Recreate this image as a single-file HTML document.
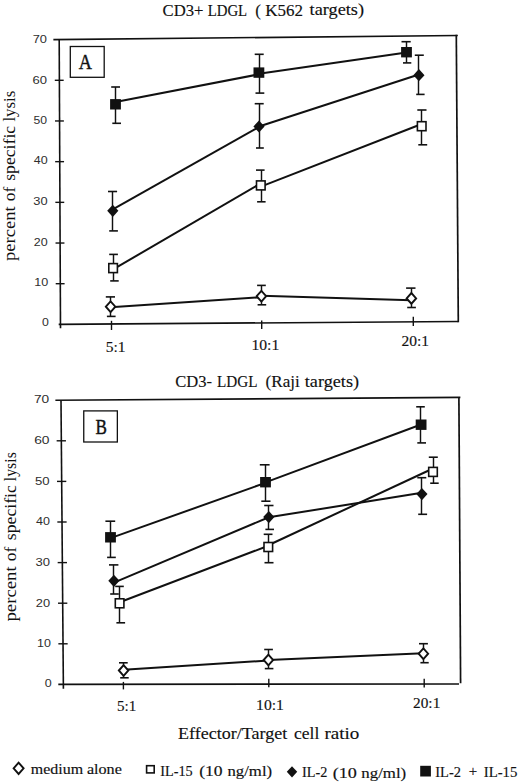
<!DOCTYPE html>
<html><head><meta charset="utf-8"><title>Figure</title>
<style>
html,body{margin:0;padding:0;background:#fff;}
body{width:520px;height:783px;overflow:hidden;font-family:"Liberation Serif",serif;}
svg{display:block;}
</style></head><body>
<svg width="520" height="783" viewBox="0 0 520 783">
<rect width="520" height="783" fill="#fff"/>
<line x1="54.20" y1="39.65" x2="457.00" y2="35.50" stroke="#111" stroke-width="1.6" stroke-linecap="square"/>
<line x1="456.30" y1="35.50" x2="458.30" y2="321.50" stroke="#111" stroke-width="1.7" stroke-linecap="square"/>
<line x1="58.70" y1="324.41" x2="458.30" y2="321.50" stroke="#111" stroke-width="1.7" stroke-linecap="butt"/>
<line x1="59.20" y1="39.60" x2="60.50" y2="328.30" stroke="#111" stroke-width="1.6" stroke-linecap="butt"/>
<line x1="55.71" y1="283.71" x2="64.61" y2="283.71" stroke="#111" stroke-width="1.4" stroke-linecap="butt"/>
<line x1="55.53" y1="243.03" x2="64.43" y2="243.03" stroke="#111" stroke-width="1.4" stroke-linecap="butt"/>
<line x1="55.34" y1="202.34" x2="64.24" y2="202.34" stroke="#111" stroke-width="1.4" stroke-linecap="butt"/>
<line x1="55.16" y1="161.66" x2="64.06" y2="161.66" stroke="#111" stroke-width="1.4" stroke-linecap="butt"/>
<line x1="54.97" y1="120.97" x2="63.87" y2="120.97" stroke="#111" stroke-width="1.4" stroke-linecap="butt"/>
<line x1="54.79" y1="80.29" x2="63.69" y2="80.29" stroke="#111" stroke-width="1.4" stroke-linecap="butt"/>
<line x1="111.50" y1="320.80" x2="111.50" y2="330.00" stroke="#111" stroke-width="1.4" stroke-linecap="butt"/>
<line x1="261.70" y1="320.40" x2="261.70" y2="329.00" stroke="#111" stroke-width="1.4" stroke-linecap="butt"/>
<line x1="413.30" y1="316.80" x2="413.30" y2="325.90" stroke="#111" stroke-width="1.4" stroke-linecap="butt"/>
<rect x="70.3" y="46.5" width="33.9" height="30.8" fill="none" stroke="#111" stroke-width="1.3"/>
<line x1="115.50" y1="102.00" x2="258.90" y2="74.32" stroke="#111" stroke-width="2.0" stroke-linecap="butt"/>
<line x1="258.90" y1="73.84" x2="406.50" y2="52.44" stroke="#111" stroke-width="2.0" stroke-linecap="butt"/>
<line x1="115.50" y1="87.00" x2="115.50" y2="123.30" stroke="#111" stroke-width="1.45" stroke-linecap="butt"/>
<line x1="111.20" y1="87.00" x2="120.00" y2="87.00" stroke="#111" stroke-width="1.6" stroke-linecap="butt"/>
<line x1="112.30" y1="123.30" x2="121.00" y2="123.30" stroke="#111" stroke-width="1.6" stroke-linecap="butt"/>
<line x1="259.50" y1="54.30" x2="259.50" y2="93.10" stroke="#111" stroke-width="1.45" stroke-linecap="butt"/>
<line x1="254.70" y1="54.30" x2="263.70" y2="54.30" stroke="#111" stroke-width="1.6" stroke-linecap="butt"/>
<line x1="255.50" y1="93.10" x2="264.30" y2="93.10" stroke="#111" stroke-width="1.6" stroke-linecap="butt"/>
<line x1="406.50" y1="41.70" x2="406.50" y2="62.90" stroke="#111" stroke-width="1.45" stroke-linecap="butt"/>
<line x1="401.50" y1="41.70" x2="410.70" y2="41.70" stroke="#111" stroke-width="1.6" stroke-linecap="butt"/>
<line x1="403.00" y1="62.90" x2="411.30" y2="62.90" stroke="#111" stroke-width="1.6" stroke-linecap="butt"/>
<rect x="110.10" y="99.10" width="10.8" height="10.4" fill="#111"/>
<rect x="253.50" y="67.40" width="10.8" height="10.4" fill="#111"/>
<rect x="401.10" y="47.00" width="10.8" height="10.4" fill="#111"/>
<line x1="112.80" y1="209.28" x2="259.00" y2="126.97" stroke="#111" stroke-width="2.0" stroke-linecap="butt"/>
<line x1="259.00" y1="126.48" x2="418.90" y2="74.51" stroke="#111" stroke-width="2.0" stroke-linecap="butt"/>
<line x1="112.50" y1="191.50" x2="112.50" y2="230.90" stroke="#111" stroke-width="1.45" stroke-linecap="butt"/>
<line x1="108.00" y1="191.50" x2="117.10" y2="191.50" stroke="#111" stroke-width="1.6" stroke-linecap="butt"/>
<line x1="109.20" y1="230.90" x2="117.90" y2="230.90" stroke="#111" stroke-width="1.6" stroke-linecap="butt"/>
<line x1="259.50" y1="103.70" x2="259.50" y2="148.00" stroke="#111" stroke-width="1.45" stroke-linecap="butt"/>
<line x1="254.70" y1="103.70" x2="263.70" y2="103.70" stroke="#111" stroke-width="1.6" stroke-linecap="butt"/>
<line x1="256.00" y1="148.00" x2="263.80" y2="148.00" stroke="#111" stroke-width="1.6" stroke-linecap="butt"/>
<line x1="418.50" y1="55.20" x2="418.50" y2="94.40" stroke="#111" stroke-width="1.45" stroke-linecap="butt"/>
<line x1="414.80" y1="55.20" x2="423.80" y2="55.20" stroke="#111" stroke-width="1.6" stroke-linecap="butt"/>
<line x1="416.20" y1="94.40" x2="424.60" y2="94.40" stroke="#111" stroke-width="1.6" stroke-linecap="butt"/>
<polygon points="107.20,210.80 112.80,204.70 118.40,210.80 112.80,216.90" fill="#111"/>
<polygon points="253.40,126.50 259.00,120.40 264.60,126.50 259.00,132.60" fill="#111"/>
<polygon points="413.30,75.20 418.90,69.10 424.50,75.20 418.90,81.30" fill="#111"/>
<line x1="113.10" y1="269.40" x2="260.80" y2="183.29" stroke="#111" stroke-width="2.0" stroke-linecap="butt"/>
<line x1="260.80" y1="186.60" x2="421.70" y2="124.01" stroke="#111" stroke-width="2.0" stroke-linecap="butt"/>
<line x1="113.50" y1="254.40" x2="113.50" y2="280.90" stroke="#111" stroke-width="1.45" stroke-linecap="butt"/>
<line x1="109.20" y1="254.40" x2="117.90" y2="254.40" stroke="#111" stroke-width="1.6" stroke-linecap="butt"/>
<line x1="110.20" y1="280.90" x2="118.70" y2="280.90" stroke="#111" stroke-width="1.6" stroke-linecap="butt"/>
<line x1="261.50" y1="170.10" x2="261.50" y2="201.80" stroke="#111" stroke-width="1.45" stroke-linecap="butt"/>
<line x1="256.00" y1="170.10" x2="264.60" y2="170.10" stroke="#111" stroke-width="1.6" stroke-linecap="butt"/>
<line x1="257.10" y1="201.80" x2="265.60" y2="201.80" stroke="#111" stroke-width="1.6" stroke-linecap="butt"/>
<line x1="421.50" y1="110.00" x2="421.50" y2="144.80" stroke="#111" stroke-width="1.45" stroke-linecap="butt"/>
<line x1="417.30" y1="110.00" x2="426.50" y2="110.00" stroke="#111" stroke-width="1.6" stroke-linecap="butt"/>
<line x1="418.30" y1="144.80" x2="427.20" y2="144.80" stroke="#111" stroke-width="1.6" stroke-linecap="butt"/>
<rect x="108.80" y="263.60" width="8.6" height="9.0" fill="#fff" stroke="#111" stroke-width="1.6"/>
<rect x="256.50" y="180.90" width="8.6" height="9.0" fill="#fff" stroke="#111" stroke-width="1.6"/>
<rect x="417.40" y="121.70" width="8.6" height="9.0" fill="#fff" stroke="#111" stroke-width="1.6"/>
<line x1="110.60" y1="307.18" x2="261.40" y2="297.15" stroke="#111" stroke-width="2.0" stroke-linecap="butt"/>
<line x1="261.40" y1="295.84" x2="411.40" y2="300.29" stroke="#111" stroke-width="2.0" stroke-linecap="butt"/>
<line x1="110.50" y1="296.90" x2="110.50" y2="316.40" stroke="#111" stroke-width="1.45" stroke-linecap="butt"/>
<line x1="105.80" y1="296.90" x2="115.00" y2="296.90" stroke="#111" stroke-width="1.6" stroke-linecap="butt"/>
<line x1="106.90" y1="316.40" x2="115.60" y2="316.40" stroke="#111" stroke-width="1.6" stroke-linecap="butt"/>
<line x1="261.50" y1="285.40" x2="261.50" y2="304.80" stroke="#111" stroke-width="1.45" stroke-linecap="butt"/>
<line x1="257.10" y1="285.40" x2="265.80" y2="285.40" stroke="#111" stroke-width="1.6" stroke-linecap="butt"/>
<line x1="257.60" y1="304.80" x2="266.20" y2="304.80" stroke="#111" stroke-width="1.6" stroke-linecap="butt"/>
<line x1="411.50" y1="288.10" x2="411.50" y2="307.50" stroke="#111" stroke-width="1.45" stroke-linecap="butt"/>
<line x1="406.10" y1="288.10" x2="415.50" y2="288.10" stroke="#111" stroke-width="1.6" stroke-linecap="butt"/>
<line x1="407.20" y1="307.50" x2="415.90" y2="307.50" stroke="#111" stroke-width="1.6" stroke-linecap="butt"/>
<polygon points="105.85,306.70 110.60,301.35 115.35,306.70 110.60,312.05" fill="#fff" stroke="#111" stroke-width="1.9" stroke-linejoin="miter"/>
<polygon points="256.65,296.20 261.40,290.85 266.15,296.20 261.40,301.55" fill="#fff" stroke="#111" stroke-width="1.9" stroke-linejoin="miter"/>
<polygon points="406.65,298.40 411.40,293.05 416.15,298.40 411.40,303.75" fill="#fff" stroke="#111" stroke-width="1.9" stroke-linejoin="miter"/>
<line x1="56.20" y1="400.23" x2="459.60" y2="397.40" stroke="#111" stroke-width="1.6" stroke-linecap="square"/>
<line x1="458.90" y1="397.40" x2="460.60" y2="683.20" stroke="#111" stroke-width="1.7" stroke-linecap="butt"/>
<line x1="58.30" y1="684.41" x2="459.00" y2="684.00" stroke="#111" stroke-width="1.7" stroke-linecap="butt"/>
<line x1="61.00" y1="400.20" x2="63.40" y2="688.70" stroke="#111" stroke-width="1.6" stroke-linecap="butt"/>
<line x1="58.36" y1="643.80" x2="67.66" y2="643.80" stroke="#111" stroke-width="1.4" stroke-linecap="butt"/>
<line x1="58.01" y1="603.20" x2="67.31" y2="603.20" stroke="#111" stroke-width="1.4" stroke-linecap="butt"/>
<line x1="57.67" y1="562.60" x2="66.97" y2="562.60" stroke="#111" stroke-width="1.4" stroke-linecap="butt"/>
<line x1="57.33" y1="522.00" x2="66.63" y2="522.00" stroke="#111" stroke-width="1.4" stroke-linecap="butt"/>
<line x1="56.99" y1="481.40" x2="66.29" y2="481.40" stroke="#111" stroke-width="1.4" stroke-linecap="butt"/>
<line x1="56.64" y1="440.80" x2="65.94" y2="440.80" stroke="#111" stroke-width="1.4" stroke-linecap="butt"/>
<line x1="123.40" y1="681.90" x2="123.40" y2="689.40" stroke="#111" stroke-width="1.4" stroke-linecap="butt"/>
<line x1="268.80" y1="678.70" x2="268.80" y2="687.30" stroke="#111" stroke-width="1.4" stroke-linecap="butt"/>
<line x1="424.20" y1="678.80" x2="424.20" y2="687.50" stroke="#111" stroke-width="1.4" stroke-linecap="butt"/>
<rect x="83.75" y="410.9" width="33.6" height="31.1" fill="none" stroke="#111" stroke-width="1.3"/>
<line x1="110.50" y1="538.17" x2="265.50" y2="482.83" stroke="#111" stroke-width="2.0" stroke-linecap="butt"/>
<line x1="265.50" y1="482.43" x2="421.10" y2="424.55" stroke="#111" stroke-width="2.0" stroke-linecap="butt"/>
<line x1="110.50" y1="521.20" x2="110.50" y2="557.40" stroke="#111" stroke-width="1.45" stroke-linecap="butt"/>
<line x1="105.40" y1="521.20" x2="115.20" y2="521.20" stroke="#111" stroke-width="1.6" stroke-linecap="butt"/>
<line x1="107.10" y1="557.40" x2="115.80" y2="557.40" stroke="#111" stroke-width="1.6" stroke-linecap="butt"/>
<line x1="265.50" y1="464.80" x2="265.50" y2="501.20" stroke="#111" stroke-width="1.45" stroke-linecap="butt"/>
<line x1="259.80" y1="464.80" x2="269.60" y2="464.80" stroke="#111" stroke-width="1.6" stroke-linecap="butt"/>
<line x1="261.30" y1="501.20" x2="270.50" y2="501.20" stroke="#111" stroke-width="1.6" stroke-linecap="butt"/>
<line x1="420.50" y1="406.80" x2="420.50" y2="442.90" stroke="#111" stroke-width="1.45" stroke-linecap="butt"/>
<line x1="416.20" y1="406.80" x2="424.80" y2="406.80" stroke="#111" stroke-width="1.6" stroke-linecap="butt"/>
<line x1="417.30" y1="442.90" x2="426.00" y2="442.90" stroke="#111" stroke-width="1.6" stroke-linecap="butt"/>
<rect x="105.10" y="532.10" width="10.8" height="10.4" fill="#111"/>
<rect x="260.10" y="477.00" width="10.8" height="10.4" fill="#111"/>
<rect x="415.70" y="419.50" width="10.8" height="10.4" fill="#111"/>
<line x1="113.90" y1="582.64" x2="268.80" y2="517.27" stroke="#111" stroke-width="2.0" stroke-linecap="butt"/>
<line x1="268.80" y1="517.29" x2="421.90" y2="492.80" stroke="#111" stroke-width="2.0" stroke-linecap="butt"/>
<line x1="113.50" y1="564.90" x2="113.50" y2="594.00" stroke="#111" stroke-width="1.45" stroke-linecap="butt"/>
<line x1="109.00" y1="564.90" x2="118.40" y2="564.90" stroke="#111" stroke-width="1.6" stroke-linecap="butt"/>
<line x1="110.20" y1="594.00" x2="118.80" y2="594.00" stroke="#111" stroke-width="1.6" stroke-linecap="butt"/>
<line x1="268.50" y1="505.50" x2="268.50" y2="529.40" stroke="#111" stroke-width="1.45" stroke-linecap="butt"/>
<line x1="264.20" y1="505.50" x2="273.50" y2="505.50" stroke="#111" stroke-width="1.6" stroke-linecap="butt"/>
<line x1="265.40" y1="529.40" x2="274.00" y2="529.40" stroke="#111" stroke-width="1.6" stroke-linecap="butt"/>
<line x1="421.50" y1="477.70" x2="421.50" y2="514.30" stroke="#111" stroke-width="1.45" stroke-linecap="butt"/>
<line x1="417.30" y1="477.70" x2="426.30" y2="477.70" stroke="#111" stroke-width="1.6" stroke-linecap="butt"/>
<line x1="418.20" y1="514.30" x2="427.10" y2="514.30" stroke="#111" stroke-width="1.6" stroke-linecap="butt"/>
<polygon points="108.30,580.80 113.90,574.70 119.50,580.80 113.90,586.90" fill="#111"/>
<polygon points="263.20,517.10 268.80,511.00 274.40,517.10 268.80,523.20" fill="#111"/>
<polygon points="416.30,494.10 421.90,488.00 427.50,494.10 421.90,500.20" fill="#111"/>
<line x1="119.60" y1="602.27" x2="268.30" y2="545.77" stroke="#111" stroke-width="2.0" stroke-linecap="butt"/>
<line x1="268.30" y1="545.24" x2="433.00" y2="468.49" stroke="#111" stroke-width="2.0" stroke-linecap="butt"/>
<line x1="119.50" y1="586.40" x2="119.50" y2="622.80" stroke="#111" stroke-width="1.45" stroke-linecap="butt"/>
<line x1="115.20" y1="586.40" x2="123.80" y2="586.40" stroke="#111" stroke-width="1.6" stroke-linecap="butt"/>
<line x1="116.40" y1="622.80" x2="125.10" y2="622.80" stroke="#111" stroke-width="1.6" stroke-linecap="butt"/>
<line x1="268.50" y1="534.30" x2="268.50" y2="562.70" stroke="#111" stroke-width="1.45" stroke-linecap="butt"/>
<line x1="263.70" y1="534.30" x2="272.50" y2="534.30" stroke="#111" stroke-width="1.6" stroke-linecap="butt"/>
<line x1="264.50" y1="562.70" x2="273.50" y2="562.70" stroke="#111" stroke-width="1.6" stroke-linecap="butt"/>
<line x1="433.50" y1="457.20" x2="433.50" y2="483.20" stroke="#111" stroke-width="1.45" stroke-linecap="butt"/>
<line x1="428.80" y1="457.20" x2="437.80" y2="457.20" stroke="#111" stroke-width="1.6" stroke-linecap="butt"/>
<line x1="430.20" y1="483.20" x2="438.70" y2="483.20" stroke="#111" stroke-width="1.6" stroke-linecap="butt"/>
<rect x="115.30" y="598.80" width="8.6" height="9.0" fill="#fff" stroke="#111" stroke-width="1.6"/>
<rect x="264.00" y="542.50" width="8.6" height="9.0" fill="#fff" stroke="#111" stroke-width="1.6"/>
<rect x="428.70" y="467.40" width="8.6" height="9.0" fill="#fff" stroke="#111" stroke-width="1.6"/>
<line x1="123.60" y1="669.66" x2="268.40" y2="660.54" stroke="#111" stroke-width="2.0" stroke-linecap="butt"/>
<line x1="268.40" y1="659.94" x2="423.40" y2="653.27" stroke="#111" stroke-width="2.0" stroke-linecap="butt"/>
<line x1="123.50" y1="662.80" x2="123.50" y2="677.80" stroke="#111" stroke-width="1.45" stroke-linecap="butt"/>
<line x1="119.00" y1="662.80" x2="127.70" y2="662.80" stroke="#111" stroke-width="1.6" stroke-linecap="butt"/>
<line x1="120.20" y1="677.80" x2="128.70" y2="677.80" stroke="#111" stroke-width="1.6" stroke-linecap="butt"/>
<line x1="268.50" y1="649.50" x2="268.50" y2="668.60" stroke="#111" stroke-width="1.45" stroke-linecap="butt"/>
<line x1="264.20" y1="649.50" x2="272.90" y2="649.50" stroke="#111" stroke-width="1.6" stroke-linecap="butt"/>
<line x1="264.80" y1="668.60" x2="273.40" y2="668.60" stroke="#111" stroke-width="1.6" stroke-linecap="butt"/>
<line x1="423.50" y1="643.70" x2="423.50" y2="662.70" stroke="#111" stroke-width="1.45" stroke-linecap="butt"/>
<line x1="419.00" y1="643.70" x2="427.90" y2="643.70" stroke="#111" stroke-width="1.6" stroke-linecap="butt"/>
<line x1="420.40" y1="662.70" x2="428.70" y2="662.70" stroke="#111" stroke-width="1.6" stroke-linecap="butt"/>
<polygon points="118.85,670.50 123.60,665.15 128.35,670.50 123.60,675.85" fill="#fff" stroke="#111" stroke-width="1.9" stroke-linejoin="miter"/>
<polygon points="263.65,660.00 268.40,654.65 273.15,660.00 268.40,665.35" fill="#fff" stroke="#111" stroke-width="1.9" stroke-linejoin="miter"/>
<polygon points="418.65,653.70 423.40,648.35 428.15,653.70 423.40,659.05" fill="#fff" stroke="#111" stroke-width="1.9" stroke-linejoin="miter"/>
<text x="162.52" y="15.9" font-family='"Liberation Serif", serif' font-size="17" fill="#111" stroke="#111" stroke-width="0.15" textLength="40.87" lengthAdjust="spacingAndGlyphs">CD3+</text>
<text x="207.63" y="15.9" font-family='"Liberation Serif", serif' font-size="17" fill="#111" stroke="#111" stroke-width="0.15" textLength="39.53" lengthAdjust="spacingAndGlyphs">LDGL</text>
<text x="255.2" y="15.7" font-family='"Liberation Serif", serif' font-size="17" fill="#111" stroke="#111" stroke-width="0.15" textLength="5.67" lengthAdjust="spacingAndGlyphs">(</text>
<text x="265.3" y="15.6" font-family='"Liberation Serif", serif' font-size="17" fill="#111" stroke="#111" stroke-width="0.15" textLength="37.78" lengthAdjust="spacingAndGlyphs">K562</text>
<text x="309.6" y="15.4" font-family='"Liberation Serif", serif' font-size="17" fill="#111" stroke="#111" stroke-width="0.15" textLength="54.42" lengthAdjust="spacingAndGlyphs">targets)</text>
<text x="175.33" y="387.0" font-family='"Liberation Serif", serif' font-size="17" fill="#111" stroke="#111" stroke-width="0.15" textLength="36.73" lengthAdjust="spacingAndGlyphs">CD3-</text>
<text x="217.01" y="386.9" font-family='"Liberation Serif", serif' font-size="17" fill="#111" stroke="#111" stroke-width="0.15" textLength="40.48" lengthAdjust="spacingAndGlyphs">LDGL</text>
<text x="265.6" y="386.7" font-family='"Liberation Serif", serif' font-size="17" fill="#111" stroke="#111" stroke-width="0.15" textLength="34.11" lengthAdjust="spacingAndGlyphs">(Raji</text>
<text x="304.8" y="386.5" font-family='"Liberation Serif", serif' font-size="17" fill="#111" stroke="#111" stroke-width="0.15" textLength="54.22" lengthAdjust="spacingAndGlyphs">targets)</text>
<text x="177.94" y="739.1" font-family='"Liberation Serif", serif' font-size="17" fill="#111" stroke="#111" stroke-width="0.15" textLength="109.23" lengthAdjust="spacingAndGlyphs">Effector/Target</text>
<text x="293.97" y="739.1" font-family='"Liberation Serif", serif' font-size="17" fill="#111" stroke="#111" stroke-width="0.15" textLength="25.29" lengthAdjust="spacingAndGlyphs">cell</text>
<text x="324.48" y="739.0" font-family='"Liberation Serif", serif' font-size="17" fill="#111" stroke="#111" stroke-width="0.15" textLength="34.89" lengthAdjust="spacingAndGlyphs">ratio</text>
<text x="105.74" y="352.2" font-family='"Liberation Serif", serif' font-size="14.6" fill="#111" stroke="#111" stroke-width="0.15" textLength="19.82" lengthAdjust="spacingAndGlyphs">5:1</text>
<text x="251.45" y="350.1" font-family='"Liberation Serif", serif' font-size="14.6" fill="#111" stroke="#111" stroke-width="0.15" textLength="27.87" lengthAdjust="spacingAndGlyphs">10:1</text>
<text x="401.54" y="345.8" font-family='"Liberation Serif", serif' font-size="14.6" fill="#111" stroke="#111" stroke-width="0.15" textLength="27.58" lengthAdjust="spacingAndGlyphs">20:1</text>
<text x="117.07" y="711.4" font-family='"Liberation Serif", serif' font-size="14.6" fill="#111" stroke="#111" stroke-width="0.15" textLength="19.24" lengthAdjust="spacingAndGlyphs">5:1</text>
<text x="256.05" y="710.1" font-family='"Liberation Serif", serif' font-size="14.6" fill="#111" stroke="#111" stroke-width="0.15" textLength="27.87" lengthAdjust="spacingAndGlyphs">10:1</text>
<text x="413.05" y="707.8" font-family='"Liberation Serif", serif' font-size="14.6" fill="#111" stroke="#111" stroke-width="0.15" textLength="27.25" lengthAdjust="spacingAndGlyphs">20:1</text>
<text x="30.8" y="773.6" font-family='"Liberation Serif", serif' font-size="14" fill="#111" stroke="#111" stroke-width="0.15" textLength="52.32" lengthAdjust="spacingAndGlyphs">medium</text>
<text x="86.9" y="773.7" font-family='"Liberation Serif", serif' font-size="14" fill="#111" stroke="#111" stroke-width="0.15" textLength="34.98" lengthAdjust="spacingAndGlyphs">alone</text>
<text x="160.28" y="775.9" font-family='"Liberation Serif", serif' font-size="14" fill="#111" stroke="#111" stroke-width="0.15" textLength="32.4" lengthAdjust="spacingAndGlyphs">IL-15</text>
<text x="199.15" y="776.1" font-family='"Liberation Serif", serif' font-size="14" fill="#111" stroke="#111" stroke-width="0.15" textLength="23.39" lengthAdjust="spacingAndGlyphs">(10</text>
<text x="227.5" y="776.3" font-family='"Liberation Serif", serif' font-size="14" fill="#111" stroke="#111" stroke-width="0.15" textLength="44.61" lengthAdjust="spacingAndGlyphs">ng/ml)</text>
<text x="301.98" y="777.4" font-family='"Liberation Serif", serif' font-size="14" fill="#111" stroke="#111" stroke-width="0.15" textLength="25.32" lengthAdjust="spacingAndGlyphs">IL-2</text>
<text x="332.71" y="777.5" font-family='"Liberation Serif", serif' font-size="14" fill="#111" stroke="#111" stroke-width="0.15" textLength="24.16" lengthAdjust="spacingAndGlyphs">(10</text>
<text x="361.3" y="777.6" font-family='"Liberation Serif", serif' font-size="14" fill="#111" stroke="#111" stroke-width="0.15" textLength="44.91" lengthAdjust="spacingAndGlyphs">ng/ml)</text>
<text x="435.27" y="777.0" font-family='"Liberation Serif", serif' font-size="14" fill="#111" stroke="#111" stroke-width="0.15" textLength="25.65" lengthAdjust="spacingAndGlyphs">IL-2</text>
<text x="468.73" y="776.0" font-family='"Liberation Serif", serif' font-size="14" fill="#111" stroke="#111" stroke-width="0.15" textLength="8.43" lengthAdjust="spacingAndGlyphs">+</text>
<text x="483.75" y="776.7" font-family='"Liberation Serif", serif' font-size="14" fill="#111" stroke="#111" stroke-width="0.15" textLength="33.64" lengthAdjust="spacingAndGlyphs">IL-15</text>
<text x="78.75" y="68.8" font-family='"Liberation Serif", serif' font-size="22" fill="#111" stroke="#111" stroke-width="0.45" textLength="13.16" lengthAdjust="spacingAndGlyphs">A</text>
<text x="95.42" y="433.7" font-family='"Liberation Serif", serif' font-size="22" fill="#111" stroke="#111" stroke-width="0.45" textLength="11.41" lengthAdjust="spacingAndGlyphs">B</text>
<text x="32.68" y="43.0" font-family='"Liberation Sans", sans-serif' font-size="11.5" fill="#2e2e2e" textLength="14.29" lengthAdjust="spacingAndGlyphs">70</text>
<text x="32.47" y="83.6" font-family='"Liberation Sans", sans-serif' font-size="11.5" fill="#2e2e2e" textLength="14.5" lengthAdjust="spacingAndGlyphs">60</text>
<text x="33.44" y="124.3" font-family='"Liberation Sans", sans-serif' font-size="11.5" fill="#2e2e2e" textLength="13.54" lengthAdjust="spacingAndGlyphs">50</text>
<text x="33.8" y="164.0" font-family='"Liberation Sans", sans-serif' font-size="11.5" fill="#2e2e2e" textLength="13.88" lengthAdjust="spacingAndGlyphs">40</text>
<text x="33.38" y="204.9" font-family='"Liberation Sans", sans-serif' font-size="11.5" fill="#2e2e2e" textLength="14.29" lengthAdjust="spacingAndGlyphs">30</text>
<text x="33.82" y="245.8" font-family='"Liberation Sans", sans-serif' font-size="11.5" fill="#2e2e2e" textLength="13.86" lengthAdjust="spacingAndGlyphs">20</text>
<text x="34.21" y="286.3" font-family='"Liberation Sans", sans-serif' font-size="11.5" fill="#2e2e2e" textLength="13.97" lengthAdjust="spacingAndGlyphs">10</text>
<text x="42.0" y="326.1" font-family='"Liberation Sans", sans-serif' font-size="11.5" fill="#2e2e2e" textLength="6.83" lengthAdjust="spacingAndGlyphs">0</text>
<text x="33.91" y="403.4" font-family='"Liberation Sans", sans-serif' font-size="11.5" fill="#2e2e2e" textLength="15.25" lengthAdjust="spacingAndGlyphs">70</text>
<text x="34.2" y="444.3" font-family='"Liberation Sans", sans-serif' font-size="11.5" fill="#2e2e2e" textLength="15.36" lengthAdjust="spacingAndGlyphs">60</text>
<text x="34.96" y="485.1" font-family='"Liberation Sans", sans-serif' font-size="11.5" fill="#2e2e2e" textLength="14.61" lengthAdjust="spacingAndGlyphs">50</text>
<text x="36.1" y="525.1" font-family='"Liberation Sans", sans-serif' font-size="11.5" fill="#2e2e2e" textLength="13.88" lengthAdjust="spacingAndGlyphs">40</text>
<text x="35.47" y="566.2" font-family='"Liberation Sans", sans-serif' font-size="11.5" fill="#2e2e2e" textLength="14.5" lengthAdjust="spacingAndGlyphs">30</text>
<text x="35.88" y="607.1" font-family='"Liberation Sans", sans-serif' font-size="11.5" fill="#2e2e2e" textLength="14.29" lengthAdjust="spacingAndGlyphs">20</text>
<text x="37.02" y="647.0" font-family='"Liberation Sans", sans-serif' font-size="11.5" fill="#2e2e2e" textLength="13.86" lengthAdjust="spacingAndGlyphs">10</text>
<text x="44.8" y="686.6" font-family='"Liberation Sans", sans-serif' font-size="11.5" fill="#2e2e2e" textLength="6.94" lengthAdjust="spacingAndGlyphs">0</text>
<text x="15.5" y="261.10" font-family='"Liberation Serif", serif' font-size="17" fill="#111" textLength="54.73" lengthAdjust="spacingAndGlyphs" transform="rotate(-90 15.5 261.10)">percent</text>
<text x="15.5" y="201.33" font-family='"Liberation Serif", serif' font-size="17" fill="#111" textLength="14.61" lengthAdjust="spacingAndGlyphs" transform="rotate(-90 15.5 201.33)">of</text>
<text x="15.5" y="180.84" font-family='"Liberation Serif", serif' font-size="17" fill="#111" textLength="55.04" lengthAdjust="spacingAndGlyphs" transform="rotate(-90 15.5 180.84)">specific</text>
<text x="15.5" y="121.59" font-family='"Liberation Serif", serif' font-size="17" fill="#111" textLength="30.77" lengthAdjust="spacingAndGlyphs" transform="rotate(-90 15.5 121.59)">lysis</text>
<text x="15.8" y="621.50" font-family='"Liberation Serif", serif' font-size="17" fill="#111" textLength="55.13" lengthAdjust="spacingAndGlyphs" transform="rotate(-90 15.8 621.50)">percent</text>
<text x="15.8" y="561.33" font-family='"Liberation Serif", serif' font-size="17" fill="#111" textLength="14.61" lengthAdjust="spacingAndGlyphs" transform="rotate(-90 15.8 561.33)">of</text>
<text x="15.8" y="540.14" font-family='"Liberation Serif", serif' font-size="17" fill="#111" textLength="55.04" lengthAdjust="spacingAndGlyphs" transform="rotate(-90 15.8 540.14)">specific</text>
<text x="15.8" y="481.13" font-family='"Liberation Serif", serif' font-size="17" fill="#111" textLength="28.9" lengthAdjust="spacingAndGlyphs" transform="rotate(-90 15.8 481.13)">lysis</text>
<polygon points="13.60,768.30 18.60,762.65 23.60,768.30 18.60,773.95" fill="#fff" stroke="#111" stroke-width="1.9" stroke-linejoin="miter"/>
<rect x="146.6" y="765.7" width="7.6" height="7.2" fill="#fff" stroke="#111" stroke-width="1.6"/>
<polygon points="286.80,771.80 292.00,766.15 297.20,771.80 292.00,777.45" fill="#111"/>
<rect x="420.2" y="765.8" width="10.7" height="10.7" fill="#111"/>
</svg>
</body></html>
